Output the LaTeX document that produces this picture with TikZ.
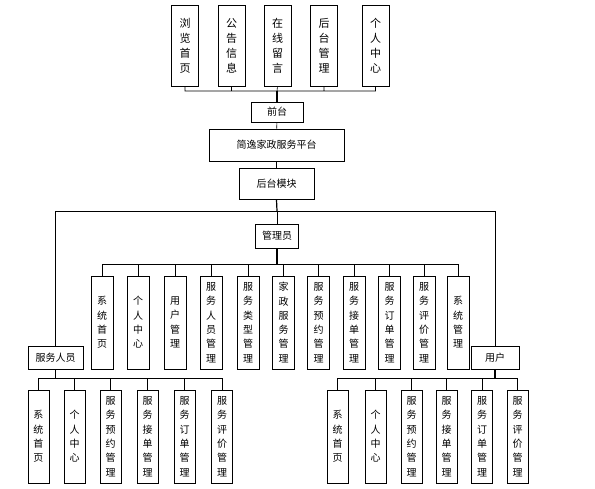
\documentclass[tikz,border=0pt]{standalone}
\usepackage{fontspec}
\newfontfamily\cjk{Noto Sans CJK SC}
\usepackage{tikz}
\usetikzlibrary{positioning}

\tikzset{
  kuang/.style={draw, line width=0.8pt, inner sep=0pt, align=center,
    font=\cjk\fontsize{10}{14.3}\selectfont},
  shu/.style={kuang, minimum width=22pt, minimum height=93pt},
  ding/.style={kuang, minimum width=27pt, minimum height=81pt,
    font=\cjk\fontsize{11}{15}\selectfont},
  heng/.style={kuang, minimum height=23pt},
  xian/.style={line width=0.6pt},
  gan/.style={line width=1.2pt}
}

\begin{document}
\begin{tikzpicture}[x=1pt, y=-1pt]
    \useasboundingbox (0,0) rectangle (595,488);

    % =================================================================
    % 1. 前台部分
    % =================================================================
    \node[ding] (q1) at (185,45.5)   {浏\\览\\首\\页};
    \node[ding] (q2) at (231.5,45.5) {公\\告\\信\\息};
    \node[ding] (q3) at (277.5,45.5) {在\\线\\留\\言};
    \node[ding] (q4) at (324,45.5)   {后\\台\\管\\理};
    \node[ding] (q5) at (375.5,45.5) {个\\人\\中\\心};

    \node[heng, minimum width=52pt, minimum height=20pt] (qiantai) at (277,112) {前台};
    \node[heng, minimum width=135pt, minimum height=32pt] (pingtai) at (276.5,145) {简逸家政服务平台};
    \node[heng, minimum width=75pt, minimum height=31pt] (houtai) at (276.5,184) {后台模块};

    % 前台上方的横线
    \coordinate (bus1) at (277,91);
    \draw[xian] (bus1) -| (q1.south) (bus1) -| (q2.south) (bus1) -- (q3.south)
        (bus1) -| (q4.south) (bus1) -| (q5.south);
    \draw[gan] (qiantai.north) -- (bus1);
    \draw[xian] (qiantai) -- (pingtai) -- (houtai);

    % =================================================================
    % 2. 管理员及其功能
    % =================================================================
    \node[heng, minimum width=43pt, minimum height=24pt] (guanli) at (277,236) {管理员};

    \node[shu] (g1)  at (102,322.5)   {系\\统\\首\\页};
    \node[shu] (g2)  at (138,322.5)   {个\\人\\中\\心};
    \node[shu] (g3)  at (175,322.5)   {用\\户\\管\\理};
    \node[shu] (g4)  at (211,322.5)   {服\\务\\人\\员\\管\\理};
    \node[shu] (g5)  at (248,322.5)   {服\\务\\类\\型\\管\\理};
    \node[shu] (g6)  at (283.5,322.5) {家\\政\\服\\务\\管\\理};
    \node[shu] (g7)  at (318.5,322.5) {服\\务\\预\\约\\管\\理};
    \node[shu] (g8)  at (354,322.5)   {服\\务\\接\\单\\管\\理};
    \node[shu] (g9)  at (389.5,322.5) {服\\务\\订\\单\\管\\理};
    \node[shu] (g10) at (424,322.5)   {服\\务\\评\\价\\管\\理};
    \node[shu] (g11) at (458,322.5)   {系\\统\\管\\理};

    \coordinate (bus2) at (277,211);
    \coordinate (bus3) at (277,264);
    \draw[gan] (houtai.south) -- (bus2);
    \draw[xian] (bus2) -- (guanli.north);
    \draw[gan] (guanli.south) -- (bus3);
    \draw[xian] (bus3) -| (g1.north) (bus3) -| (g2.north) (bus3) -| (g3.north)
        (bus3) -| (g4.north) (bus3) -| (g5.north) (bus3) -| (g6.north)
        (bus3) -| (g7.north) (bus3) -| (g8.north) (bus3) -| (g9.north)
        (bus3) -| (g10.north) (bus3) -| (g11.north);

    % =================================================================
    % 3. 服务人员及其功能
    % =================================================================
    \node[heng, minimum width=55pt] (fuwu) at (55.5,357.5) {服务人员};

    \node[shu, minimum width=21pt] (f1) at (38.5,436.5)  {系\\统\\首\\页};
    \node[shu, minimum width=21pt] (f2) at (74.5,436.5)  {个\\人\\中\\心};
    \node[shu, minimum width=21pt] (f3) at (110.5,436.5) {服\\务\\预\\约\\管\\理};
    \node[shu, minimum width=21pt] (f4) at (147.5,436.5) {服\\务\\接\\单\\管\\理};
    \node[shu, minimum width=21pt] (f5) at (184.5,436.5) {服\\务\\订\\单\\管\\理};
    \node[shu, minimum width=21pt] (f6) at (222,436.5)   {服\\务\\评\\价\\管\\理};

    \coordinate (bus4) at (55.5,378);
    \draw[xian] (bus2) -| (fuwu.north);
    \draw[gan] (fuwu.south) -- (bus4);
    \draw[xian] (bus4) -| (f1.north) (bus4) -| (f2.north) (bus4) -| (f3.north)
        (bus4) -| (f4.north) (bus4) -| (f5.north) (bus4) -| (f6.north);

    % =================================================================
    % 4. 用户及其功能
    % =================================================================
    \node[heng, minimum width=48pt] (yonghu) at (495,357.5) {用户};

    \node[shu, minimum width=21pt] (y1) at (337.5,436.5) {系\\统\\首\\页};
    \node[shu, minimum width=21pt] (y2) at (375.5,436.5) {个\\人\\中\\心};
    \node[shu, minimum width=21pt] (y3) at (411.5,436.5) {服\\务\\预\\约\\管\\理};
    \node[shu, minimum width=21pt] (y4) at (446.5,436.5) {服\\务\\接\\单\\管\\理};
    \node[shu, minimum width=21pt] (y5) at (482,436.5)   {服\\务\\订\\单\\管\\理};
    \node[shu, minimum width=21pt] (y6) at (517.5,436.5) {服\\务\\评\\价\\管\\理};

    \coordinate (bus5) at (495,378);
    \draw[xian] (bus2) -| (yonghu.north);
    \draw[gan] (yonghu.south) -- (bus5);
    \draw[xian] (bus5) -| (y1.north) (bus5) -| (y2.north) (bus5) -| (y3.north)
        (bus5) -| (y4.north) (bus5) -| (y5.north) (bus5) -| (y6.north);

\end{tikzpicture}
\end{document}
